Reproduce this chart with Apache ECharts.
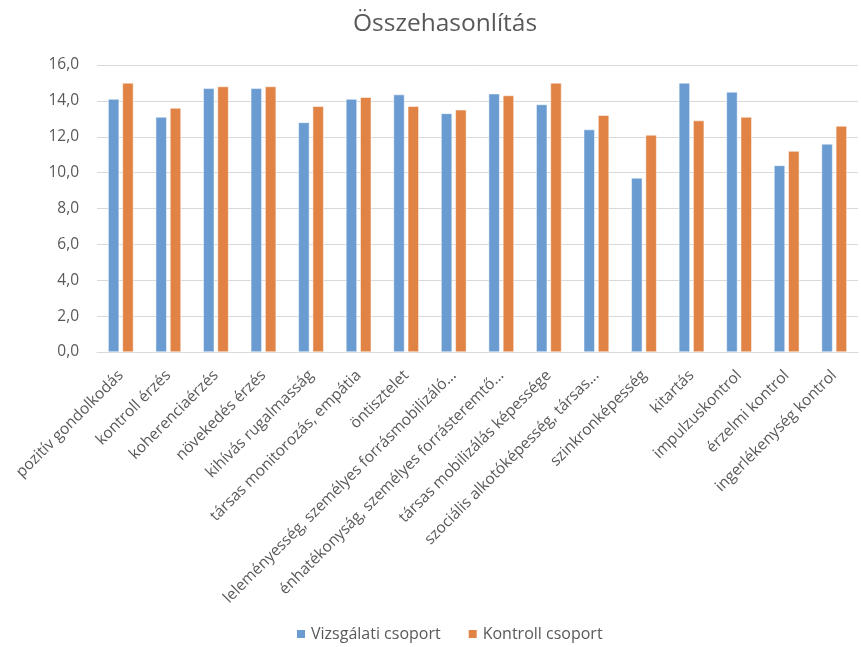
<!DOCTYPE html>
<html>
<head>
<meta charset="utf-8">
<script src="https://cdn.jsdelivr.net/npm/echarts@6/dist/echarts.min.js"></script>
<style>
  html, body { margin: 0; padding: 0; background: #ffffff; }
  #chart { width: 861px; height: 647px; }
</style>
</head>
<body>
<div id="chart"></div>
<script>
// Skill dimensions compared between the two groups
const categories = [
  'pozitív gondolkodás',
  'kontroll érzés',
  'koherenciaérzés',
  'növekedés érzés',
  'kihívás rugalmasság',
  'társas monitorozás, empátia',
  'öntisztelet',
  'leleményesség, személyes forrásmobilizáló...',
  'énhatékonyság, személyes forrásteremtő...',
  'társas mobilizálás képessége',
  'szociális alkotóképesség, társas...',
  'szinkronképesség',
  'kitartás',
  'impulzuskontrol',
  'érzelmi kontrol',
  'ingerlékenység kontrol'
];

const seriesNames = ['Vizsgálati csoport', 'Kontroll csoport'];

const studyGroup   = [14.1, 13.1, 14.7, 14.7, 12.8, 14.1, 14.35, 13.3, 14.4, 13.8, 12.4, 9.7, 15.0, 14.5, 10.4, 11.6];
const controlGroup = [15.0, 13.6, 14.8, 14.8, 13.7, 14.2, 13.7, 13.5, 14.3, 15.0, 13.2, 12.1, 12.9, 13.1, 11.2, 12.6];

const yTicks = { min: 0, max: 16, interval: 2 };

const textColor = '#595959';
const fontFamily = '"Open Sans", "Liberation Sans", sans-serif';

const chart = echarts.init(document.getElementById('chart'), null, { renderer: 'canvas' });

chart.setOption({
  animation: false,
  backgroundColor: '#ffffff',
  title: {
    text: 'Összehasonlítás',
    left: 348,
    top: 7,
    textStyle: { color: textColor, fontSize: 24.5, fontWeight: 'normal', fontFamily: fontFamily }
  },
  legend: {
    bottom: 0,
    left: 290,
    itemWidth: 10,
    itemHeight: 10,
    itemGap: 26,
    icon: 'rect',
    textStyle: { color: textColor, fontSize: 16, fontFamily: fontFamily },
    data: seriesNames
  },
  grid: { left: 97, right: 3, top: 65, bottom: 295, containLabel: false },
  xAxis: {
    type: 'category',
    data: categories,
    boundaryGap: true,
    axisLine: { show: true, lineStyle: { color: '#d9d9d9', width: 1 } },
    axisTick: { show: false },
    axisLabel: {
      interval: 0,
      rotate: 45,
      margin: 21,
      color: textColor,
      fontSize: 15.5,
      fontFamily: fontFamily
    }
  },
  yAxis: {
    type: 'value',
    min: yTicks.min,
    max: yTicks.max,
    interval: yTicks.interval,
    axisLine: { show: false },
    axisTick: { show: false },
    splitLine: { lineStyle: { color: '#d9d9d9', width: 1 } },
    axisLabel: {
      margin: 18,
      color: textColor,
      fontSize: 15.5,
      fontFamily: fontFamily,
      formatter: v => v.toFixed(1).replace('.', ',')
    }
  },
  series: [
    {
      name: seriesNames[0],
      type: 'bar',
      data: studyGroup,
      barWidth: 11,
      barGap: '30%',
      itemStyle: { color: '#6A9BD1', borderColor: '#ffffff', borderWidth: 0.5 }
    },
    {
      name: seriesNames[1],
      type: 'bar',
      data: controlGroup,
      barWidth: 11,
      barGap: '30%',
      itemStyle: { color: '#E08344', borderColor: '#ffffff', borderWidth: 0.5 }
    }
  ]
});
</script>
</body>
</html>
